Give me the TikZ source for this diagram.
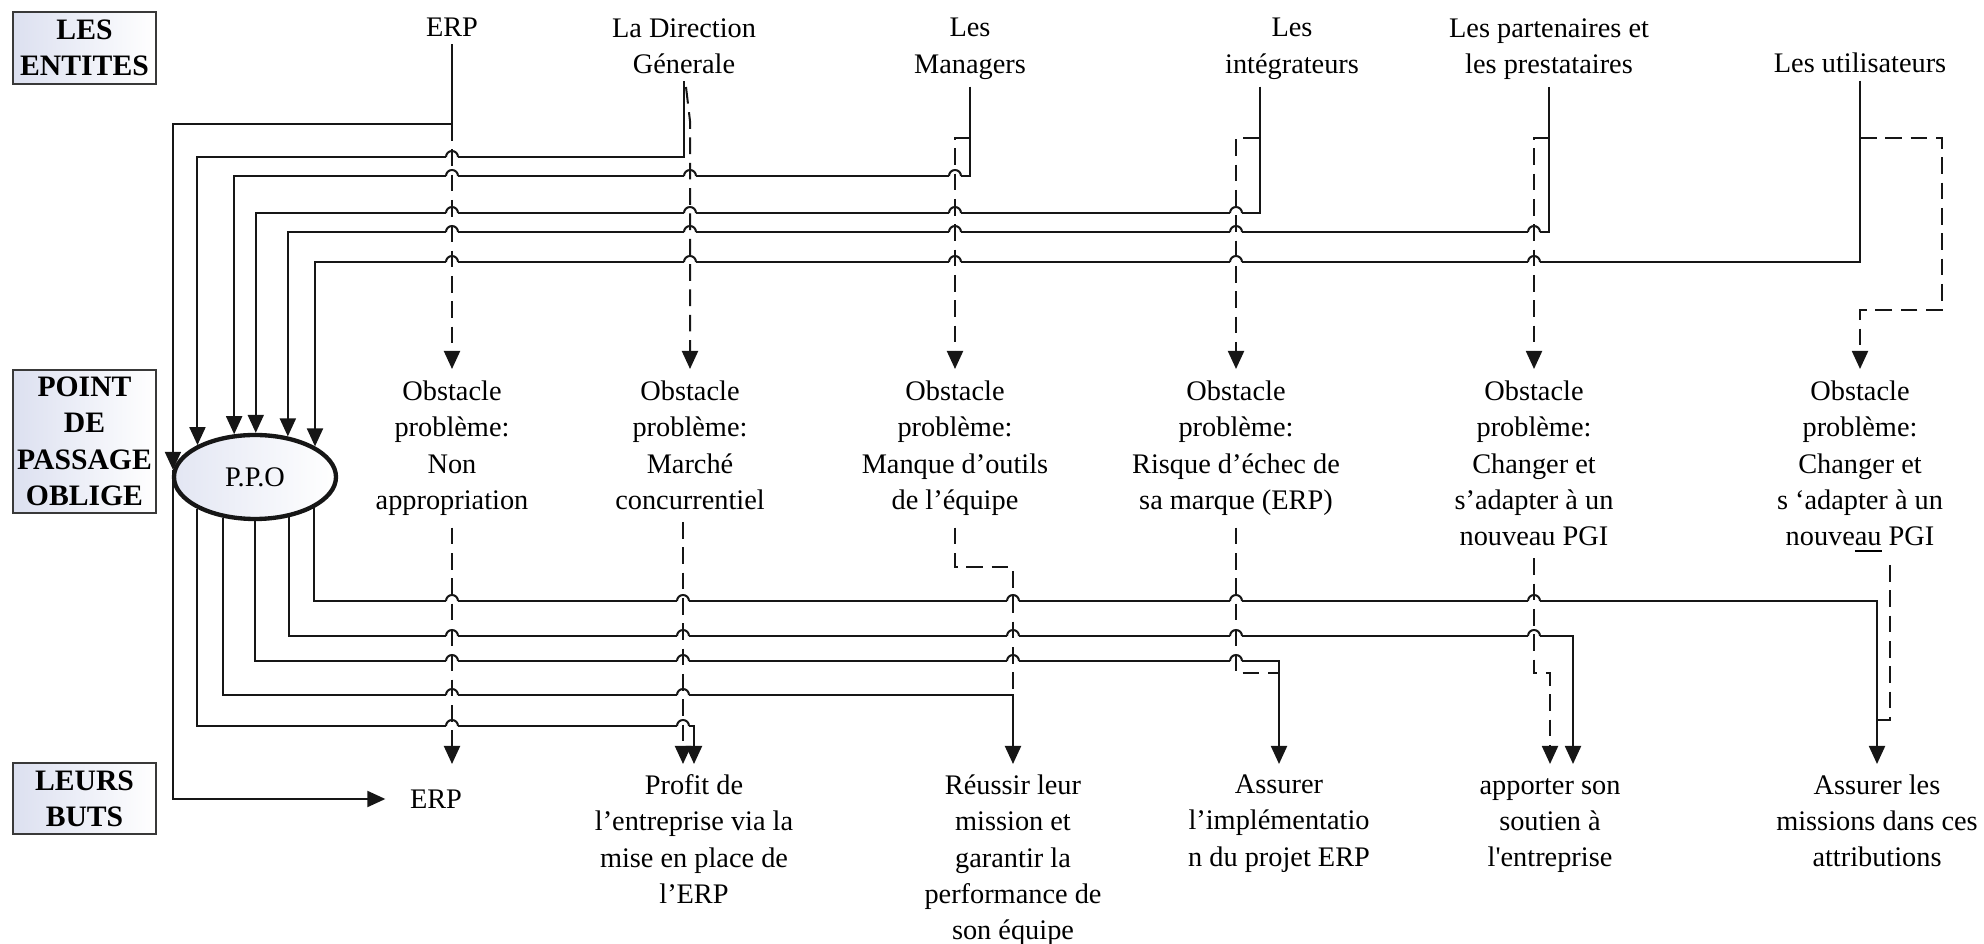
\documentclass[tikz,border=0pt]{standalone}
\usepackage{fontspec}
\setmainfont{Liberation Serif}[Ligatures=TeXOff]
\usepackage{tikz}
\usetikzlibrary{arrows.meta,calc,shapes.geometric}
\definecolor{ppLav}{HTML}{DCE0F0}
\definecolor{ppInk}{HTML}{161616}
\newcommand{\ppSize}{\fontsize{8.5}{10.9}\selectfont}
\tikzset{
  wireLine/.style={draw=ppInk, line width=0.6pt},
  wireArrow/.style={wireLine, -{Triangle[length=5.4pt,width=4.8pt]}},
  dashLine/.style={wireLine, dash pattern=on 5pt off 2.6pt},
  dashArrow/.style={dashLine, -{Triangle[length=5.4pt,width=4.8pt]}},
  headBox/.style={draw=ppInk!85, line width=0.6pt, left color=ppLav, right color=white, font=\fontsize{8.9}{10.9}\selectfont\bfseries, align=center, minimum width=42.9pt, inner sep=1pt},
  ppoNode/.style={ellipse, draw=ppInk, line width=1.3pt, left color=ppLav!80, right color=white, minimum width=48.6pt, minimum height=25.2pt, inner sep=0pt},
  actorText/.style={align=center, inner sep=2pt, anchor=north},
  obstText/.style={align=center, inner xsep=2pt, inner ysep=3.4pt, anchor=north},
  goalText/.style={align=center, inner xsep=2pt, inner ysep=3pt, anchor=north}
}
\newcommand{\lineHop}[2]{%
  \fill[white] (#1-6,#2-1.5) rectangle (#1+6,#2+1.5);
  \draw[wireLine] (#1-6,#2) arc[start angle=180,end angle=0,radius=6];
}

\begin{document}
\begin{tikzpicture}[x=0.3pt,y=0.3pt,font=\ppSize]
  \useasboundingbox (0,0) rectangle (1984,-944);
  \foreach \n/\y in {r1/124,r2/157,r3/176,r4/213,r5/232,r6/262,t1/138,b1/601,b2/636,b3/661,b4/695,b5/726,k3/567,k4/673,k6/720}
    \coordinate (\n) at (0,-\y);
  \coordinate (uturn) at (1942,-310);

  \node[headBox, minimum height=21.6pt] (entites) at (84.5,-48) {LES\\ENTITES};
  \node[headBox, minimum height=42.9pt] (passage) at (84.5,-441.5) {POINT\\DE\\PASSAGE\\OBLIGE};
  \node[headBox, minimum height=21.3pt] (buts) at (84.5,-798.5) {LEURS\\BUTS};
  \node[ppoNode] (ppo) at (255,-477) {P.P.O};

  \node[actorText] (erp) at (452,-11) {ERP};
  \node[actorText] (dg) at (684,-11) {La Direction\\Génerale};
  \node[actorText] (mgr) at (970,-11) {Les\\Managers};
  \node[actorText] (integ) at (1292,-11) {Les\\intégrateurs};
  \node[actorText] (part) at (1549,-11) {Les partenaires et\\les prestataires};
  \node[actorText] (users) at (1860,-46) {Les utilisateurs};

  \node[obstText] (o1) at (452,-369) {Obstacle\\problème:\\Non\\appropriation};
  \node[obstText] (o2) at (690,-369) {Obstacle\\problème:\\Marché\\concurrentiel};
  \node[obstText] (o3) at (955,-369) {Obstacle\\problème:\\Manque d’outils\\de l’équipe};
  \node[obstText] (o4) at (1236,-369) {Obstacle\\problème:\\Risque d’échec de\\sa marque (ERP)};
  \node[obstText] (o5) at (1534,-369) {Obstacle\\problème:\\Changer et\\s’adapter à un\\nouveau PGI};
  \node[obstText] (o6) at (1860,-369) {Obstacle\\problème:\\Changer et\\s ‘adapter à un\\nouve\underline{au} PGI};

  \node[align=center, inner xsep=7.2pt] (g1) at (436,-799) {ERP};
  \node[goalText] (g2) at (694,-764) {Profit de\\l’entreprise via la\\mise en place de\\l’ERP};
  \node[goalText] (g3) at (1013,-764) {Réussir leur\\mission et\\garantir la\\performance de\\son équipe};
  \node[goalText] (g4) at (1279,-764) {Assurer\\l’implémentatio\\n du projet ERP};
  \node[goalText] (g5) at (1550,-764) {\vphantom{l}apporter son\\soutien à\\l'entreprise};
  \node[goalText] (g6) at (1877,-764) {Assurer les\\missions dans ces\\attributions};

  \coordinate (intS) at ($(integ.south)+(-32,0)$);
  \coordinate (g5r) at ($(g5.north)+(23,0)$);
  \coordinate (o2d) at ($(o2.south)+(-7,0)$);
  \coordinate (o6d) at ($(o6.south)+(30,0)$);

  \draw[wireArrow] (erp.south) |- (r1 -| ppo.175) -- (ppo.175);
  \draw[wireArrow] (ppo.175) |- (g1.west);
  \draw[wireArrow] (dg.south) |- (r2 -| ppo.151) -- (ppo.151);
  \draw[wireArrow] (mgr.south) |- (r3 -| ppo.116) -- (ppo.116);
  \draw[wireArrow] (intS) |- (r4 -| ppo.89) -- (ppo.89);
  \draw[wireArrow] (part.south) |- (r5 -| ppo.51) -- (ppo.51);
  \draw[wireArrow] (users.south) |- (r6 -| ppo.27) -- (ppo.27);

  \draw[wireArrow] (ppo.332) |- (b1 -| g6.north) -- (g6.north);
  \draw[wireArrow] (ppo.310) |- (b2 -| g5r) -- (g5r);
  \draw[wireArrow] (ppo.270) |- (b3 -| g4.north) -- (g4.north);
  \draw[wireArrow] (ppo.232) |- (b4 -| g3.north) -- (g3.north);
  \draw[wireArrow] (ppo.209) |- (b5 -| g2.north) -- (g2.north);

  \foreach \y/\xs in {157/{452}, 176/{452,690,955}, 213/{452,690,955,1236}, 232/{452,690,955,1236,1534}, 262/{452,690,955,1236,1534}, 601/{452,683,1013,1236,1534}, 636/{452,683,1013,1236,1534}, 661/{452,683,1013,1236}, 695/{452,683}, 726/{452,683}}
    \foreach \x in \xs {\lineHop{\x}{-\y}}

  \draw[dashArrow] (erp.south |- r1) -- (o1.north);
  \draw[dashArrow] ($(dg.south)+(2,-6)$) -- ($(dg.south)+(6,-40)$) -- (o2.north);
  \draw[dashArrow] (mgr.south |- t1) -| (o3.north);
  \draw[dashArrow] (intS |- t1) -| (o4.north);
  \draw[dashArrow] (part.south |- t1) -| (o5.north);
  \draw[dashArrow] (users.south |- t1) -| (uturn) -| (o6.north);

  \draw[dashArrow] (o1.south) -- (o1.south |- g2.north);
  \draw[dashArrow] (o2d) -- (o2d |- g2.north);
  \draw[dashLine] (o3.south) |- (k3 -| g3.north) -- (g3.north |- b4);
  \draw[dashLine] (o4.south) |- (k4 -| g4.north);
  \draw[dashArrow] (o5.south) |- (k4 -| g5.north) -- (g5.north);
  \draw[dashLine] (o6d) |- (k6 -| g6.north);
\end{tikzpicture}
\end{document}
